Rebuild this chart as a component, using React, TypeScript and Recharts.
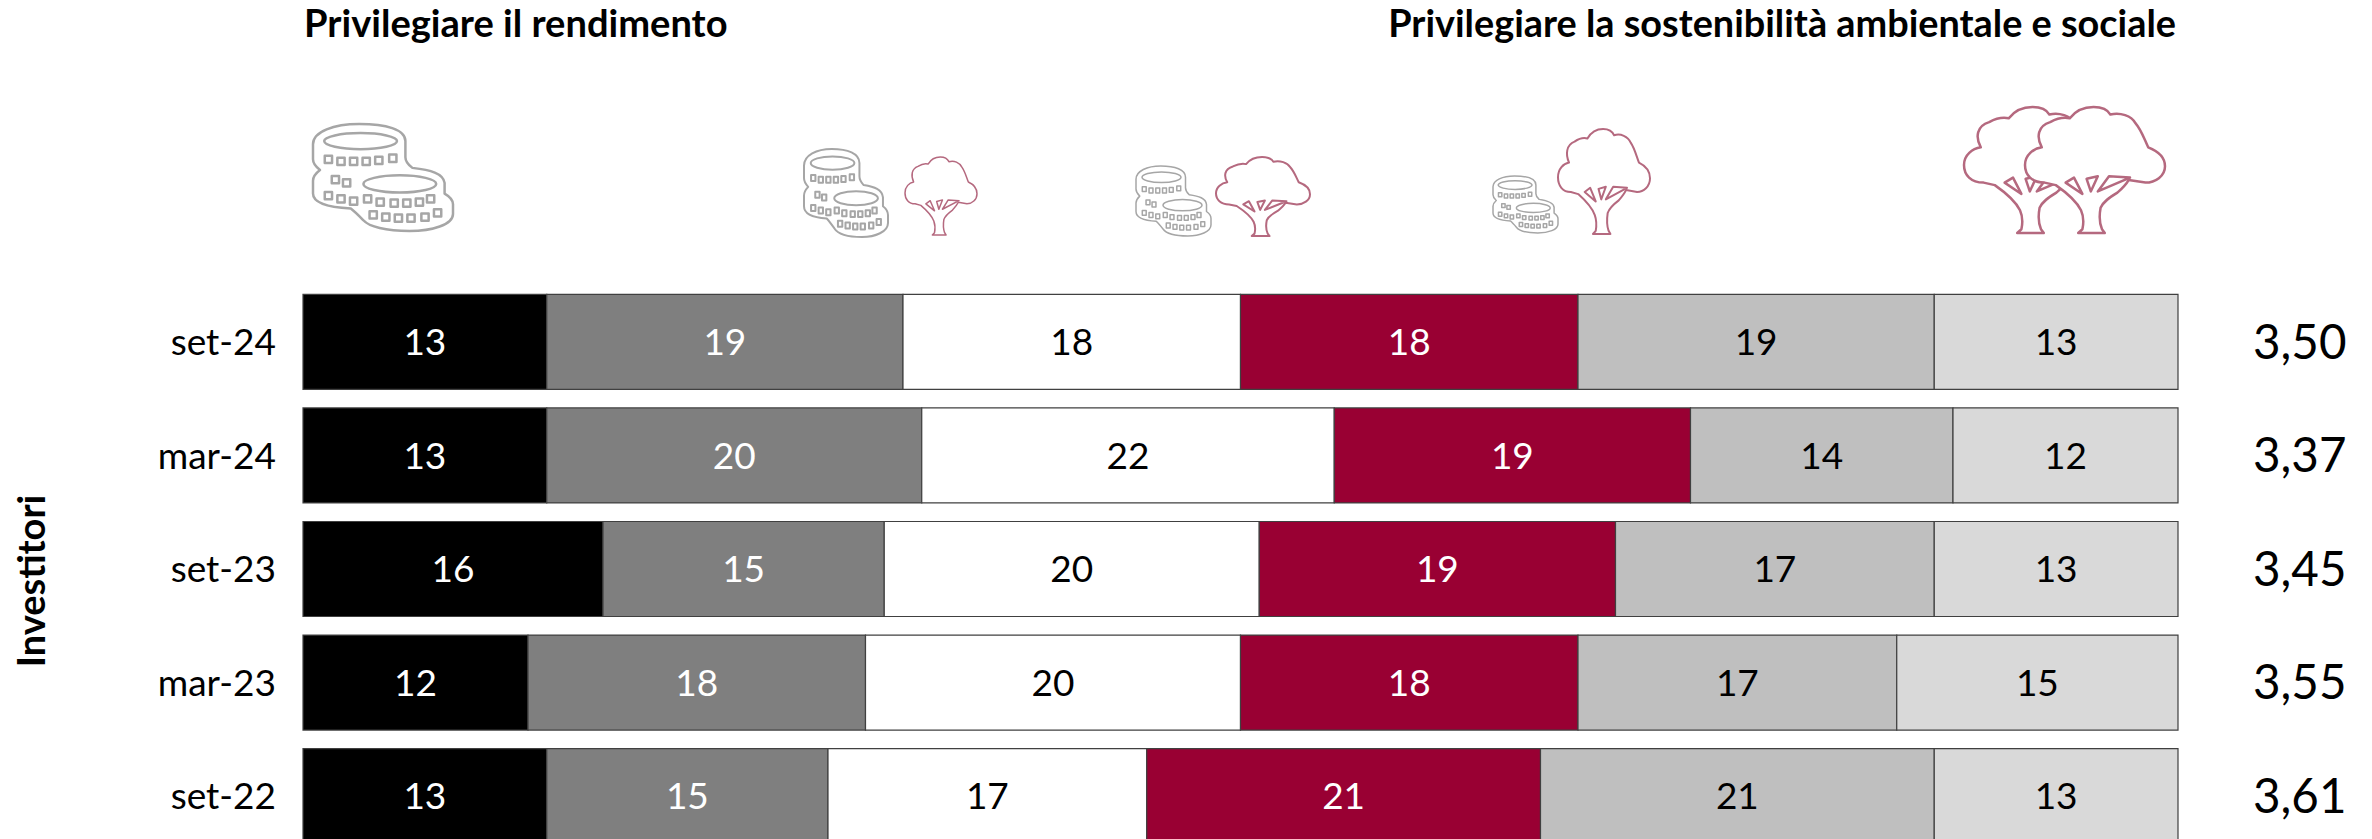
import React from "react";
import { BarChart, Bar, XAxis, YAxis, LabelList } from "recharts";

const periods = ["set-24", "mar-24", "set-23", "mar-23", "set-22"];
const averages = ["3,50", "3,37", "3,45", "3,55", "3,61"];
const s1 = [13, 13, 16, 12, 13];
const s2 = [19, 20, 15, 18, 15];
const s3 = [18, 22, 20, 20, 17];
const s4 = [18, 19, 19, 18, 21];
const s5 = [19, 14, 17, 17, 21];
const s6 = [13, 12, 13, 15, 13];
const seriesKeys = ["s1", "s2", "s3", "s4", "s5", "s6"];
const seriesFill = ["#000000", "#7f7f7f", "#ffffff", "#990033", "#bfbfbf", "#d9d9d9"];
const labelFill = ["#ffffff", "#ffffff", "#000000", "#ffffff", "#000000", "#000000"];

const data = periods.map((period, i) => ({
  period,
  avg: averages[i],
  s1: s1[i],
  s2: s2[i],
  s3: s3[i],
  s4: s4[i],
  s5: s5[i],
  s6: s6[i],
}));

const FONT = "Lato, sans-serif";
const COIN = "#a6a6a6";
const TREE = "#b5697f";

const coinCells: [number, number][] = [
  [11, 33], [20, 35], [29, 35], [38, 35], [47, 34], [57, 32],
  [16, 52], [24, 55],
  [11, 67], [20, 70], [29, 72],
  [39, 70], [48, 73], [58, 74], [67, 74], [76, 73], [84, 70],
  [43, 85], [52, 87], [61, 88], [70, 88], [80, 87], [89, 83],
];

function Coins({ x, y, w, h, sw }: { x: number; y: number; w: number; h: number; sw: number }) {
  const st = { vectorEffect: "non-scaling-stroke" as const };
  return (
    <svg x={x} y={y} width={w} height={h} viewBox="0 0 100 100" preserveAspectRatio="none" overflow="visible">
      <g fill="none" stroke={COIN} strokeWidth={sw} strokeLinejoin="round">
        <path
          style={st}
          d="M0 19 C0 7 15 0 33 0 C52 0 66 5 66 16 L66 31 C66 35 68 38 71 41 C84 43 93 46 94 55 L94 65 C98 68 100 71 100 75 L100 84 C100 94 85 100 69 100 C52 100 40 96 36 90 C33 86 30 82 27 79 C12 78 0 74 0 65 L0 53 C0 49 2 46 5 43 C2 40 0 37 0 33 Z"
        />
        <ellipse style={st} cx={34} cy={16} rx={26} ry={7.5} />
        <ellipse style={st} cx={62} cy={56} rx={26} ry={8} />
        {coinCells.map(([cx, cy], i) => (
          <rect key={i} style={st} x={cx - 2.6} y={cy - 3.4} width={5.2} height={6.8} />
        ))}
      </g>
    </svg>
  );
}

function Tree({ x, y, w, h, sw }: { x: number; y: number; w: number; h: number; sw: number }) {
  const st = { vectorEffect: "non-scaling-stroke" as const };
  return (
    <svg x={x} y={y} width={w} height={h} viewBox="0 0 100 100" preserveAspectRatio="none" overflow="visible">
      <g fill="#ffffff" stroke={TREE} strokeWidth={sw} strokeLinejoin="round">
        <path
          style={st}
          d="M38 100 L41 97 C42 92 42 87 40 82 C37 75 31 69 22 62 L14 60 C5 60 0 54 0 46 C0 38 6 33 12 32 C8 24 9 15 18 12 C23 9 28 8 32 9 C36 3 42 0 49 0 C55 0 59 2 61 6 C68 4 76 7 79 13 C83 18 85 25 88 32 C95 35 100 40 100 47 C100 55 93 60 86 60 L74 58 C72 62 69 65 66 68 C60 72 56 75 54 80 C53 86 53 92 55 97 L57 100 Z"
        />
        <path style={st} d="M29 60 L35 56 L41 69 Z" />
        <path style={st} d="M44 57 L52 55 L47 67 Z" />
        <path style={st} d="M60 55 L75 56 L52 67 Z" />
      </g>
    </svg>
  );
}

function Overlay() {
  return (
    <svg width={2372} height={839} style={{ position: "absolute", left: 0, top: 0, pointerEvents: "none" }}>
      <text x={304} y={37} fontFamily={FONT} fontWeight={700} fontSize={38.1} fill="#000">
        Privilegiare il rendimento
      </text>
      <text x={2176} y={37} textAnchor="end" fontFamily={FONT} fontWeight={700} fontSize={37.85} fill="#000">
        Privilegiare la sostenibilità ambientale e sociale
      </text>
      <text
        transform="translate(45 581) rotate(-90)"
        textAnchor="middle"
        fontFamily={FONT}
        fontWeight={700}
        fontSize={38}
        fill="#000"
      >
        Investitori
      </text>
      <Coins x={313} y={124} w={140} h={107} sw={2.5} />
      <Coins x={804} y={149} w={84} h={88} sw={2} />
      <Tree x={905} y={157} w={72} h={78} sw={1.5} />
      <Coins x={1136} y={166} w={75} h={70} sw={1.5} />
      <Tree x={1216} y={157} w={94} h={79} sw={2} />
      <Coins x={1493} y={176} w={65} h={57} sw={1.5} />
      <Tree x={1558} y={129} w={92} h={105} sw={2} />
      <Tree x={1964} y={107} w={140} h={126} sw={2.5} />
      <Tree x={2025} y={107} w={140} h={126} sw={2.5} />
    </svg>
  );
}

export default function App() {
  return (
    <div style={{ position: "absolute", left: 0, top: 0, width: 2372, height: 839, overflow: "hidden", background: "#fff" }}>
      <BarChart
        width={2372}
        height={900}
        data={data}
        layout="vertical"
        barCategoryGap={9.3}
        margin={{ top: 285, right: 0, bottom: 47, left: 0 }}
      >
        <XAxis type="number" domain={[0, 100]} hide />
        <YAxis
          yAxisId="cat"
          type="category"
          dataKey="period"
          width={303}
          axisLine={false}
          tickLine={false}
          tickMargin={21}
          interval={0}
          tick={{ fontFamily: FONT, fontSize: 37, fill: "#000" }}
        />
        <YAxis
          yAxisId="avg"
          type="category"
          dataKey="avg"
          orientation="right"
          width={194}
          axisLine={false}
          tickLine={false}
          tickMargin={69}
          interval={0}
          tick={{ fontFamily: FONT, fontSize: 47.5, fill: "#000" }}
        />
        {seriesKeys.map((key, i) => (
          <Bar
            key={key}
            yAxisId="cat"
            dataKey={key}
            stackId="a"
            fill={seriesFill[i]}
            stroke="#404040"
            strokeWidth={1.2}
            isAnimationActive={false}
          >
            <LabelList dataKey={key} position="center" fill={labelFill[i]} fontFamily={FONT} fontSize={37} />
          </Bar>
        ))}
      </BarChart>
      <Overlay />
    </div>
  );
}
